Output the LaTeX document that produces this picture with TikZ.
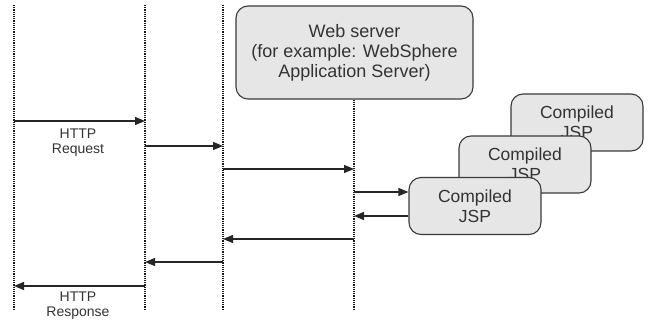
\documentclass[tikz,border=0pt]{standalone}
\usepackage{fontspec}
\setmainfont{Liberation Sans}
\usetikzlibrary{arrows.meta}
\definecolor{boxfill}{HTML}{E6E6E6}
\definecolor{boxline}{HTML}{3A3A3A}
\definecolor{txt}{HTML}{333333}
\begin{document}
\begin{tikzpicture}[x=1pt,y=-1pt,
  lifeline/.style={line width=1.6pt, dash pattern=on 1.3pt off 0.9pt, black!90},
  msg/.style={line width=1.3pt, black!85, -{Triangle[length=10pt,width=8pt]}},
  rbox/.style={draw=boxline, line width=1.1pt, fill=boxfill, rounded corners=12pt,
    align=center, text=txt, inner sep=0pt},
  jsp/.style={rbox, minimum width=132pt, minimum height=57pt, font=\fontsize{17.5}{20}\selectfont},
  lbl/.style={align=center, text=txt, font=\fontsize{14}{15}\selectfont, inner sep=0pt}]
\useasboundingbox (0,0) rectangle (653,320);
% lifelines
\coordinate (L1t) at (14,5);   \coordinate (L1b) at (14,309);
\coordinate (L2t) at (145,5);  \coordinate (L2b) at (145,309);
\coordinate (L3t) at (223,5);  \coordinate (L3b) at (223,309);
\coordinate (L4b) at (354,310);
\node[rbox, minimum width=237pt, minimum height=93pt, font=\fontsize{18}{20}\selectfont]
  (ws) at (354.5,52.5) {Web server\\(for example: WebSphere\\Application Server)};
\draw[lifeline] (L1t) -- (L1b);
\draw[lifeline] (L2t) -- (L2b);
\draw[lifeline] (L3t) -- (L3b);
\draw[lifeline] (ws.south -| L4b) -- (L4b);
% JSP boxes
\node[jsp] (j3) at (577,122.5) {Compiled\\JSP};
\node[jsp] (j2) at (525,164.5) {Compiled\\JSP};
\node[jsp] (j1) at (475,206) {Compiled\\JSP};
% messages
\draw[msg] (L1t |- 0,121) -- (L2t |- 0,121);
\node[lbl] (req) at (78,143) {HTTP\\Request};
\draw[msg] (L2t |- 0,146) -- (L3t |- 0,146);
\draw[msg] (L3t |- 0,169) -- (L4b |- 0,169);
\draw[msg] (L4b |- 0,192) -- (j1.west |- 0,192);
\draw[msg] (j1.west |- 0,216) -- (L4b |- 0,216);
\draw[msg] (L4b |- 0,239) -- (L3t |- 0,239);
\draw[msg] (L3t |- 0,262) -- (L2t |- 0,262);
\draw[msg] (L2t |- 0,286) -- (L1t |- 0,286);
\node[lbl] (resp) at (78,306) {HTTP\\Response};
\end{tikzpicture}
\end{document}
